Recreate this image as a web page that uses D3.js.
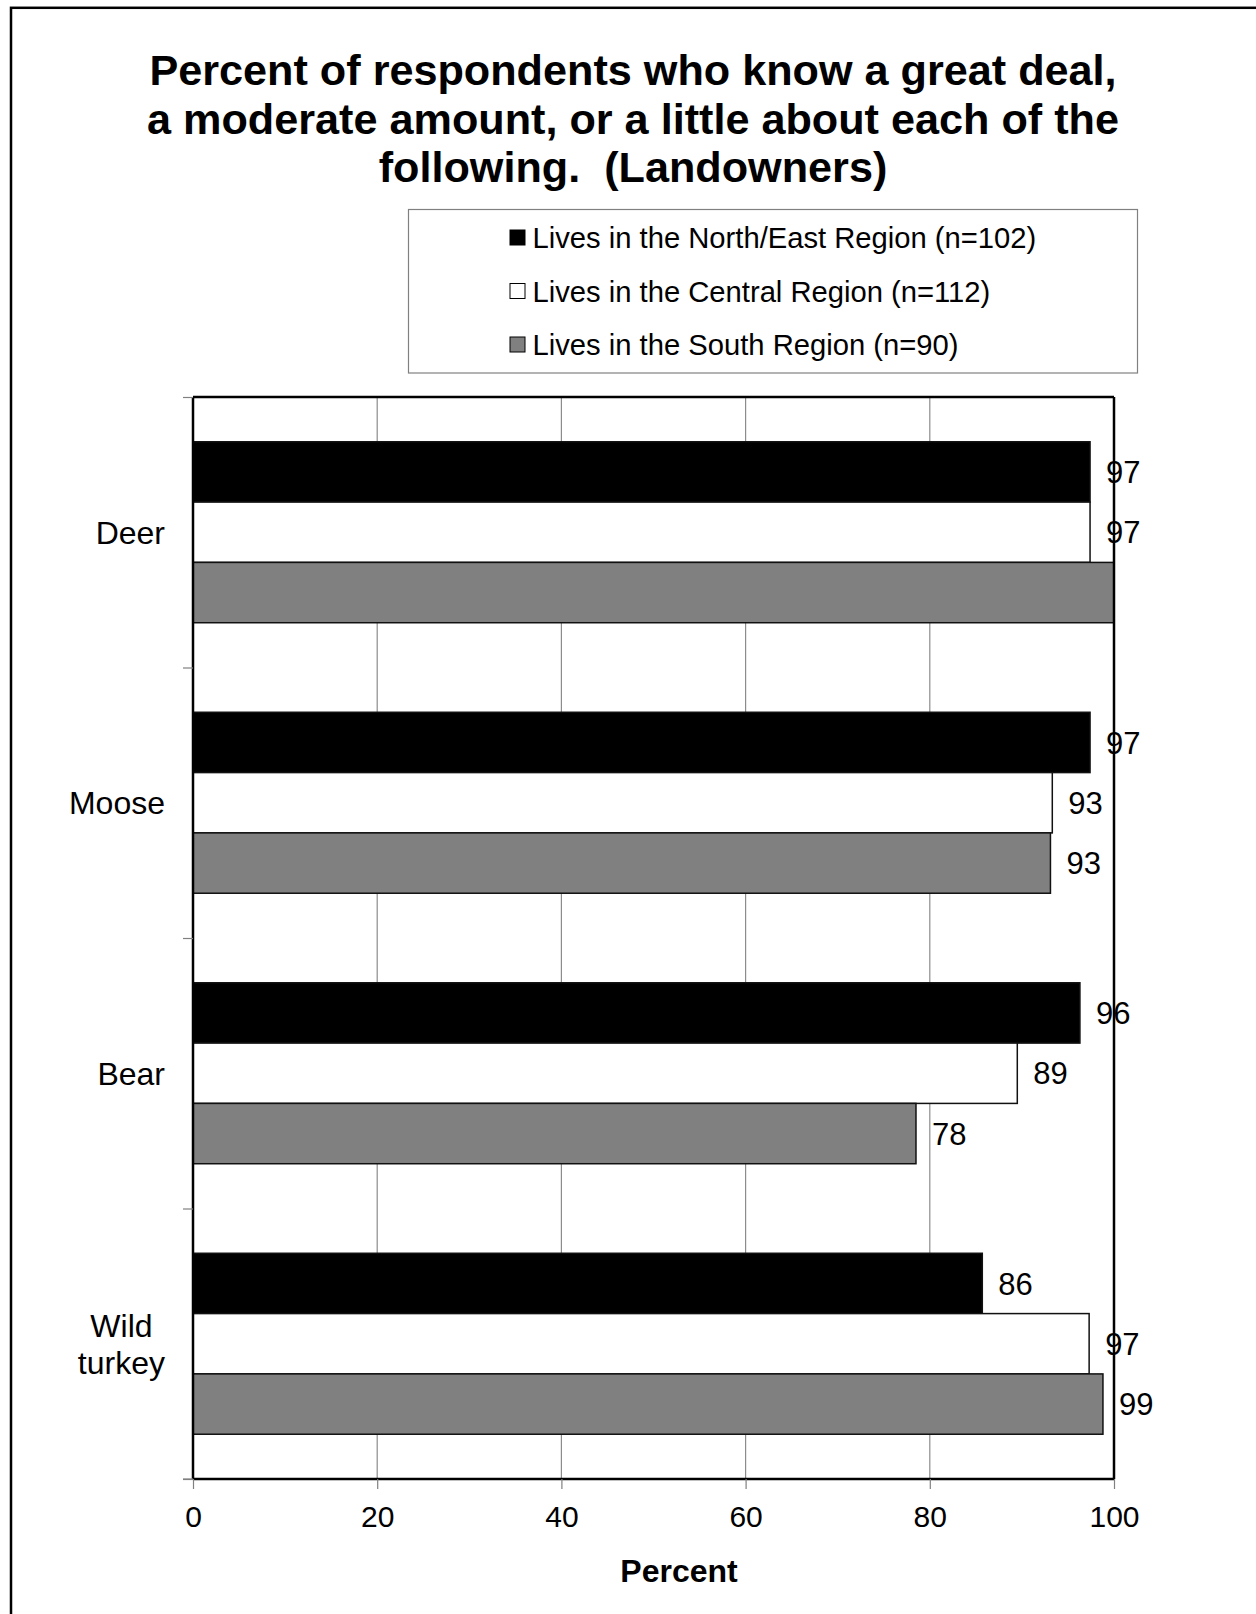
<!DOCTYPE html>
<html>
<head>
<meta charset="utf-8">
<script src="https://cdn.jsdelivr.net/npm/d3@7"></script>
<style>
  html, body { margin: 0; padding: 0; background: #fff; }
  svg { display: block; font-family: "Liberation Sans", Arial, sans-serif; }
</style>
</head>
<body>
<svg id="chart" width="1256" height="1614"></svg>
<script>
// ---- data ----
const titleLines = [
  "Percent of respondents who know a great deal,",
  "a moderate amount, or a little about each of the",
  "following.  (Landowners)"
];
const categories = ["Deer", "Moose", "Bear", "Wild turkey"];
const seriesNames = [
  "Lives in the North/East Region (n=102)",
  "Lives in the Central Region (n=112)",
  "Lives in the South Region (n=90)"
];
const northEast = [97.4, 97.4, 96.3, 85.7];
const central   = [97.4, 93.3, 89.5, 97.3];
const south     = [100, 93.1, 78.5, 98.8];
const labelNE      = ["97", "97", "96", "86"];
const labelCentral = ["97", "93", "89", "97"];
const labelSouth   = ["", "93", "78", "99"];
const xTicks = [0, 20, 40, 60, 80, 100];
const xAxisTitle = "Percent";

// ---- styles ----
const fills = ["#000000", "#ffffff", "#808080"];
const seriesValues = [northEast, central, south];
const seriesLabels = [labelNE, labelCentral, labelSouth];

const svg = d3.select("#chart");
const W = 1256, H = 1614;
svg.append("rect").attr("x", 0).attr("y", 0).attr("width", W).attr("height", H).attr("fill", "#fff");
// outer border (continues past right/bottom edge)
svg.append("rect").attr("x", 11).attr("y", 7.8).attr("width", 1400).attr("height", 1800)
  .attr("fill", "none").attr("stroke", "#000").attr("stroke-width", 2.5);

// ---- title ----
const title = svg.append("g");
titleLines.forEach((t, i) => {
  title.append("text")
    .attr("x", 633).attr("y", 85 + i * 48.5)
    .attr("text-anchor", "middle")
    .attr("font-size", 43.2).attr("font-weight", "bold")
    .attr("xml:space", "preserve")
    .style("white-space", "pre")
    .text(t);
});

// ---- legend ----
const leg = svg.append("g");
leg.append("rect").attr("x", 408.5).attr("y", 209.5).attr("width", 729).attr("height", 163.5)
  .attr("fill", "#fff").attr("stroke", "#808080").attr("stroke-width", 1.2);
seriesNames.forEach((s, i) => {
  const cy = 237.5 + i * 53.5;
  leg.append("rect").attr("x", 510).attr("y", cy - 7.5).attr("width", 15).attr("height", 15)
    .attr("fill", fills[i]).attr("stroke", "#000").attr("stroke-width", 1);
  leg.append("text").attr("x", 532.5).attr("y", cy).attr("dy", "0.36em")
    .attr("font-size", 29.2).text(s);
});

// ---- scales ----
const plot = { left: 193, right: 1114, top: 397, bottom: 1479 };
const x = d3.scaleLinear().domain([0, 100]).range([plot.left, plot.right]);
const y = d3.scaleBand().domain(categories).range([plot.top, plot.bottom])
  .paddingInner(0.331).paddingOuter(0.1655);
const ySub = d3.scaleBand().domain(d3.range(seriesNames.length)).range([0, y.bandwidth()]);

// gridlines
svg.append("g").selectAll("line").data(xTicks.filter(v => v > 0 && v < 100)).join("line")
  .attr("x1", d => x(d)).attr("x2", d => x(d))
  .attr("y1", plot.top).attr("y2", plot.bottom)
  .attr("stroke", "#8c8c8c").attr("stroke-width", 1.2);

// bars
seriesValues.forEach((vals, si) => {
  svg.append("g").selectAll("rect").data(vals).join("rect")
    .attr("x", x(0))
    .attr("y", (d, i) => y(categories[i]) + ySub(si))
    .attr("width", d => x(d) - x(0))
    .attr("height", ySub.bandwidth())
    .attr("fill", fills[si])
    .attr("stroke", "#111").attr("stroke-width", 1.5);
});

// frame
const frame = svg.append("g").attr("fill", "none").attr("stroke", "#000").attr("stroke-width", 2.5);
frame.append("line").attr("x1", plot.left).attr("x2", plot.right).attr("y1", plot.top).attr("y2", plot.top);
frame.append("line").attr("x1", plot.right).attr("x2", plot.right).attr("y1", plot.top).attr("y2", plot.bottom);
frame.append("line").attr("x1", plot.left).attr("x2", plot.right).attr("y1", plot.bottom).attr("y2", plot.bottom);
frame.append("line").attr("x1", plot.left).attr("x2", plot.left).attr("y1", plot.top).attr("y2", plot.bottom);

// left category ticks at band boundaries
const yEdge = d3.scaleLinear().domain([0, categories.length]).range([plot.top, plot.bottom]);
const leftAxis = svg.append("g").attr("transform", `translate(${plot.left},0)`)
  .call(d3.axisLeft(yEdge).tickValues(d3.range(categories.length + 1)).tickSize(10).tickFormat(""));
leftAxis.select(".domain").remove();
leftAxis.selectAll(".tick line").attr("stroke", "#808080").attr("stroke-width", 1.2);

// category labels
categories.forEach(c => {
  const words = c.split(" ");
  const cy = y(c) + y.bandwidth() / 2;
  if (words.length === 1) {
    svg.append("text").attr("x", 165).attr("y", cy).attr("dy", "0.36em")
      .attr("text-anchor", "end").attr("font-size", 32).text(c);
  } else {
    const g = svg.append("g");
    const lh = 37;
    const texts = words.map((w, i) => g.append("text")
      .attr("y", cy + (i - (words.length - 1) / 2) * lh).attr("dy", "0.36em")
      .attr("text-anchor", "middle").attr("font-size", 32).text(w));
    const maxW = d3.max(texts, t => t.node().getComputedTextLength());
    texts.forEach(t => t.attr("x", 165 - maxW / 2));
  }
});

// data labels
seriesValues.forEach((vals, si) => {
  svg.append("g").selectAll("text").data(vals).join("text")
    .attr("x", d => x(d) + 16)
    .attr("y", (d, i) => y(categories[i]) + ySub(si) + ySub.bandwidth() / 2)
    .attr("dy", "0.36em")
    .attr("font-size", 31)
    .text((d, i) => seriesLabels[si][i]);
});

// bottom axis
const bottomAxis = svg.append("g").attr("transform", `translate(0,${plot.bottom})`)
  .call(d3.axisBottom(x).tickValues(xTicks).tickSize(10).tickPadding(17));
bottomAxis.select(".domain").remove();
bottomAxis.selectAll(".tick line").attr("stroke", "#808080").attr("stroke-width", 1.2);
bottomAxis.selectAll(".tick text").attr("font-size", 30).attr("fill", "#000")
  .attr("font-family", "Liberation Sans, Arial, sans-serif");
svg.append("line").attr("x1", plot.left - 10).attr("x2", plot.left)
  .attr("y1", plot.bottom).attr("y2", plot.bottom).attr("stroke", "#808080").attr("stroke-width", 1.2);

// axis title
svg.append("text").attr("x", 679).attr("y", 1570).attr("dy", "0.36em")
  .attr("text-anchor", "middle").attr("font-size", 32).attr("font-weight", "bold").text(xAxisTitle);
</script>
</body>
</html>
